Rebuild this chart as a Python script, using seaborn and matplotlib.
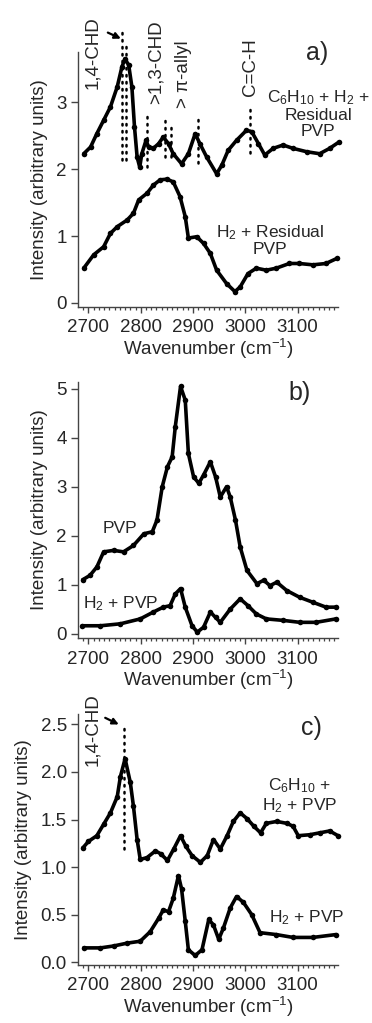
import numpy as np
import pandas as pd
import matplotlib
matplotlib.use("Agg")
import matplotlib.pyplot as plt
import seaborn as sns

# ---------------- data ----------------
# Panel a
a_top_x = [2691, 2704, 2716, 2729, 2742, 2755, 2764, 2770, 2777, 2783, 2788, 2793, 2798, 2802, 2810,
           2815, 2824, 2834, 2843, 2853, 2862, 2878, 2891, 2904, 2913, 2926, 2945, 2955, 2967, 2983,
           3002, 3012, 3025, 3037, 3053, 3072, 3091, 3117, 3142, 3161, 3178]
a_top_y = [2.23, 2.33, 2.53, 2.73, 2.93, 3.23, 3.53, 3.65, 3.55, 3.23, 2.63, 2.18, 2.03, 2.23, 2.43,
           2.33, 2.31, 2.38, 2.48, 2.38, 2.23, 2.08, 2.23, 2.53, 2.38, 2.18, 1.93, 2.06, 2.28, 2.43,
           2.58, 2.56, 2.38, 2.21, 2.31, 2.36, 2.31, 2.26, 2.23, 2.31, 2.40]
a_bot_x = [2691, 2710, 2729, 2742, 2755, 2774, 2786, 2796, 2812, 2824, 2837, 2850, 2862, 2875, 2885,
           2891, 2907, 2920, 2933, 2945, 2964, 2980, 2990, 3005, 3021, 3040, 3059, 3084, 3103, 3129,
           3154, 3176]
a_bot_y = [0.52, 0.72, 0.84, 1.04, 1.14, 1.24, 1.34, 1.54, 1.64, 1.76, 1.84, 1.85, 1.81, 1.59, 1.29,
           0.97, 0.99, 0.89, 0.74, 0.49, 0.29, 0.17, 0.24, 0.44, 0.52, 0.49, 0.52, 0.59, 0.59, 0.57,
           0.59, 0.67]

# Panel b
b_pvp_x = [2689, 2703, 2716, 2729, 2748, 2767, 2786, 2806, 2822, 2831, 2841, 2851, 2860, 2866, 2876,
           2885, 2891, 2901, 2911, 2920, 2933, 2943, 2952, 2964, 2971, 2981, 2990, 3003, 3022, 3035,
           3047, 3060, 3079, 3104, 3129, 3154, 3173]
b_pvp_y = [1.10, 1.19, 1.36, 1.67, 1.70, 1.67, 1.80, 2.04, 2.08, 2.32, 3.00, 3.41, 3.61, 4.23, 5.05,
           4.77, 3.68, 3.20, 3.07, 3.24, 3.51, 3.20, 2.79, 3.00, 2.79, 2.32, 1.77, 1.29, 1.02, 1.09,
           0.98, 1.05, 0.88, 0.74, 0.64, 0.54, 0.54]
b_h2_x = [2688, 2723, 2761, 2799, 2824, 2843, 2856, 2866, 2876, 2885, 2898, 2908, 2920, 2933, 2943,
          2952, 2971, 2990, 3005, 3021, 3040, 3072, 3104, 3135, 3173]
b_h2_y = [0.16, 0.16, 0.20, 0.30, 0.44, 0.54, 0.57, 0.81, 0.92, 0.54, 0.16, 0.03, 0.13, 0.44, 0.33,
          0.23, 0.50, 0.71, 0.57, 0.40, 0.30, 0.27, 0.23, 0.23, 0.30]

# Panel c
c_top_x = [2689, 2700, 2716, 2729, 2742, 2755, 2761, 2770, 2780, 2786, 2793, 2799, 2812, 2828, 2838,
           2851, 2863, 2876, 2886, 2898, 2914, 2927, 2939, 2952, 2965, 2977, 2990, 3003, 3016, 3029,
           3040, 3060, 3079, 3091, 3101, 3123, 3142, 3161, 3177]
c_top_y = [1.20, 1.27, 1.33, 1.45, 1.57, 1.74, 1.95, 2.14, 1.89, 1.64, 1.29, 1.08, 1.10, 1.17, 1.14,
           1.07, 1.19, 1.33, 1.22, 1.12, 1.05, 1.12, 1.29, 1.19, 1.33, 1.48, 1.57, 1.51, 1.43, 1.36,
           1.46, 1.48, 1.46, 1.43, 1.33, 1.34, 1.36, 1.38, 1.33]
c_bot_x = [2691, 2723, 2748, 2774, 2799, 2818, 2834, 2843, 2853, 2862, 2872, 2878, 2885, 2891, 2904,
           2917, 2930, 2939, 2949, 2958, 2971, 2983, 2996, 3012, 3028, 3059, 3091, 3129, 3173]
c_bot_y = [0.15, 0.15, 0.17, 0.20, 0.22, 0.32, 0.46, 0.55, 0.53, 0.67, 0.91, 0.77, 0.43, 0.13, 0.07,
           0.13, 0.45, 0.39, 0.24, 0.36, 0.57, 0.69, 0.63, 0.50, 0.31, 0.29, 0.26, 0.26, 0.29]

# ---------------- style ----------------
sns.set_style("ticks")
plt.rcParams['font.family'] = ['Liberation Sans', 'DejaVu Sans']
plt.rcParams['mathtext.fontset'] = 'custom'
plt.rcParams['mathtext.rm'] = 'Liberation Sans'
plt.rcParams['mathtext.default'] = 'regular'

FS = 13.5
fig = plt.figure(figsize=(3.72, 10.23), dpi=100)

L, W = 78 / 372, 260 / 372
def make_ax(top_px, bot_px):
    return fig.add_axes([L, 1 - bot_px / 1023, W, (bot_px - top_px) / 1023])

ax_a = make_ax(52, 307)
ax_b = make_ax(382, 638)
ax_c = make_ax(714, 965)

def draw(ax, x, y):
    sns.lineplot(x=x, y=y, ax=ax, color='black', lw=2.6, marker='o', ms=4.0,
                 markeredgewidth=0, estimator=None, sort=False, clip_on=False)

def style(ax, ylim, yticks, fmt):
    ax.set_xlim(2680, 3177)
    ax.set_ylim(*ylim)
    ax.set_yticks(yticks)
    ax.set_yticklabels([fmt.format(v) for v in yticks])
    ax.set_xticks([2700, 2800, 2900, 3000, 3100])
    ax.set_xticks(np.arange(2690, 3180, 10), minor=True)
    ax.tick_params(axis='both', which='major', labelsize=FS, direction='out', width=1,
                   color='#444444')
    ax.tick_params(axis='y', which='major', length=5, pad=3)
    ax.tick_params(axis='x', which='major', length=4, pad=5)
    ax.tick_params(axis='x', which='minor', length=2.5, width=0.9, color='#444444')
    for s in ['top', 'right']:
        ax.spines[s].set_visible(False)
    for s in ['left', 'bottom']:
        ax.spines[s].set_color('#444444')
        ax.spines[s].set_linewidth(1.0)
    ax.set_xlabel('Wavenumber (cm$^{-1}$)', fontsize=FS, labelpad=0.5)
    ax.set_ylabel('Intensity (arbitrary units)', fontsize=FS, labelpad=6)

def dotted(ax, x, y0, y1):
    ax.plot([x, x], [y0, y1], color='black', lw=1.8, ls=(0, (0.6, 2.2)),
            dash_capstyle='round', clip_on=False)

# ---- panel a ----
draw(ax_a, a_top_x, a_top_y)
draw(ax_a, a_bot_x, a_bot_y)
style(ax_a, (-0.06, 3.75), [0, 1, 2, 3], '{:d}')
for x, y0, y1 in [(2764, 2.13, 4.05), (2772, 2.13, 3.9), (2812, 2.03, 2.83), (2847, 2.18, 2.78),
                  (2857, 2.18, 2.66), (2910, 2.09, 2.76), (3009, 2.24, 2.98)]:
    dotted(ax_a, x, y0, y1)
ax_a.text(2708, 3.74, '1,4-CHD', rotation=90, ha='center', va='center', fontsize=FS)
ax_a.text(2830, 3.60, '>1,3-CHD', rotation=90, ha='center', va='center', fontsize=FS)
ax_a.text(2881, 3.42, '> π-allyl', rotation=90, ha='center', va='center', fontsize=FS)
ax_a.text(3009, 3.53, 'C=C-H', rotation=90, ha='center', va='center', fontsize=FS)
ax_a.annotate('', xy=(2762, 3.95), xytext=(2737, 4.04), annotation_clip=False,
              arrowprops=dict(arrowstyle='-|>', color='black', lw=1.6, mutation_scale=9,
                              shrinkA=0, shrinkB=0))
ax_a.text(3139, 2.83, 'C$_6$H$_{10}$ + H$_2$ +\nResidual\nPVP', ha='center', va='center',
          fontsize=12.5, linespacing=1.05)
ax_a.text(3047, 0.94, 'H$_2$ + Residual\nPVP', ha='center', va='center', fontsize=12.5,
          linespacing=1.05)
ax_a.text(3137, 3.73, 'a)', ha='center', va='center', fontsize=18)

# ---- panel b ----
draw(ax_b, b_pvp_x, b_pvp_y)
draw(ax_b, b_h2_x, b_h2_y)
style(ax_b, (-0.09, 5.14), [0, 1, 2, 3, 4, 5], '{:d}')
ax_b.text(2761, 2.15, 'PVP', ha='center', va='center', fontsize=12.5)
ax_b.text(2762, 0.61, 'H$_2$ + PVP', ha='center', va='center', fontsize=12.5)
ax_b.text(3104, 4.92, 'b)', ha='center', va='center', fontsize=18)

# ---- panel c ----
draw(ax_c, c_top_x, c_top_y)
draw(ax_c, c_bot_x, c_bot_y)
style(ax_c, (-0.03, 2.61), [0.0, 0.5, 1.0, 1.5, 2.0, 2.5], '{:.1f}')
dotted(ax_c, 2767, 1.19, 2.52)
ax_c.text(2708, 2.45, '1,4-CHD', rotation=90, ha='center', va='center', fontsize=FS)
ax_c.annotate('', xy=(2758, 2.50), xytext=(2732, 2.57), annotation_clip=False,
              arrowprops=dict(arrowstyle='-|>', color='black', lw=1.6, mutation_scale=9,
                              shrinkA=0, shrinkB=0))
ax_c.text(3104, 1.75, 'C$_6$H$_{10}$ +\nH$_2$ + PVP', ha='center', va='center', fontsize=12.5,
          linespacing=1.05)
ax_c.text(3117, 0.47, 'H$_2$ + PVP', ha='center', va='center', fontsize=12.5)
ax_c.text(3127, 2.46, 'c)', ha='center', va='center', fontsize=18)

fig.savefig('out.png', dpi=100)
